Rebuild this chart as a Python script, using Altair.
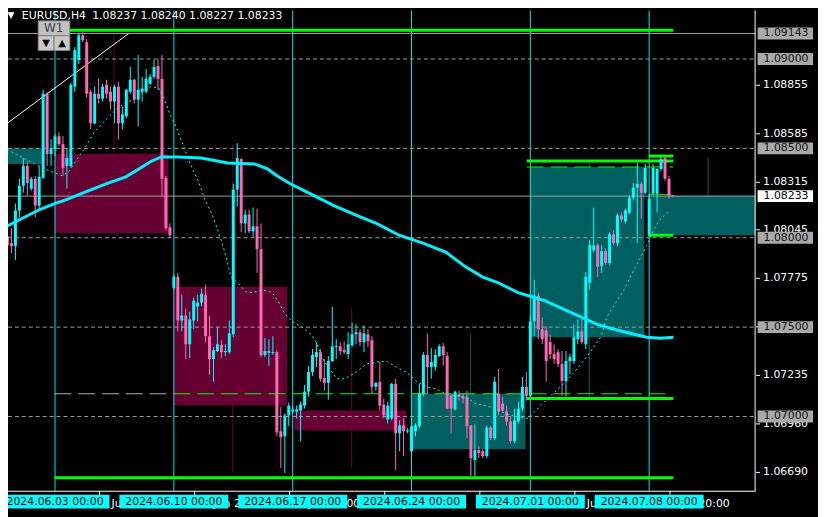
import altair as alt
import pandas as pd

# ---------------- data (EURUSD H4) ----------------
opens = [
1.08163, 1.08008, 1.07970, 1.07953, 1.08152, 1.08291, 1.08402, 1.08274, 1.08330, 1.08180,
1.08335, 1.08806, 1.08468, 1.08496, 1.08568, 1.08524, 1.08402, 1.08402, 1.08845, 1.08994,
1.09133, 1.09094, 1.08817, 1.08640, 1.08806, 1.08778, 1.08856, 1.08817, 1.08762, 1.08845,
1.08640, 1.08679, 1.08817, 1.08884, 1.08773, 1.08817, 1.08817, 1.08861, 1.08900, 1.08961,
1.08889, 1.08335, 1.08058, 1.07720, 1.07781, 1.07537, 1.07565, 1.07404, 1.07537, 1.07615,
1.07637, 1.07681, 1.07449, 1.07321, 1.07366, 1.07399, 1.07360, 1.07360, 1.07460, 1.08269,
1.08440, 1.08080, 1.08130, 1.08036, 1.08064, 1.07936, 1.07344, 1.07360, 1.07355, 1.07360,
1.06917, 1.06889, 1.07006, 1.07028, 1.07028, 1.07033, 1.07061, 1.07139, 1.07249, 1.07332,
1.07360, 1.07216, 1.07188, 1.07310, 1.07388, 1.07393, 1.07371, 1.07349, 1.07399, 1.07460,
1.07471, 1.07416, 1.07460, 1.07427, 1.07166, 1.07194, 1.07067, 1.06983, 1.06989, 1.07183,
1.06906, 1.06950, 1.06917, 1.06806, 1.06917, 1.06945, 1.07127, 1.07344, 1.07277, 1.07277,
1.07338, 1.07393, 1.07338, 1.07116, 1.07039, 1.07122, 1.07111, 1.07111, 1.06950, 1.06756,
1.06812, 1.06806, 1.06778, 1.06939, 1.06878, 1.07127, 1.07072, 1.07028, 1.06972, 1.06862,
1.06972, 1.07044, 1.07166, 1.07116, 1.07532, 1.07676, 1.07488, 1.07482, 1.07416, 1.07349,
1.07360, 1.07294, 1.07199, 1.07310, 1.07310, 1.07432, 1.07476, 1.07404, 1.07748, 1.07931,
1.07958, 1.07842, 1.07925, 1.07859, 1.08019, 1.07970, 1.08125, 1.08091, 1.08141, 1.08224,
1.08280, 1.08302, 1.08252, 1.08014, 1.08247, 1.08247, 1.08385, 1.08446, 1.08330, 1.08237,
]
highs = [
1.08191, 1.08025, 1.08053, 1.08191, 1.08330, 1.08446, 1.08429, 1.08341, 1.08346, 1.08402,
1.08828, 1.08817, 1.08551, 1.08579, 1.08590, 1.08568, 1.08501, 1.08867, 1.09066, 1.09144,
1.09150, 1.09111, 1.08828, 1.08845, 1.08889, 1.08861, 1.08884, 1.08845, 1.08856, 1.08873,
1.08734, 1.08834, 1.08956, 1.08889, 1.09022, 1.08900, 1.08945, 1.08917, 1.08994, 1.09000,
1.09022, 1.08346, 1.08080, 1.07792, 1.07803, 1.07681, 1.07604, 1.07587, 1.07665, 1.07681,
1.07715, 1.07737, 1.07565, 1.07388, 1.07499, 1.07427, 1.07404, 1.07537, 1.08302, 1.08529,
1.08446, 1.08158, 1.08158, 1.08169, 1.08163, 1.08080, 1.07438, 1.07432, 1.07449, 1.07371,
1.07055, 1.07017, 1.07078, 1.07061, 1.07061, 1.07083, 1.07177, 1.07283, 1.07377, 1.07416,
1.07377, 1.07321, 1.07338, 1.07615, 1.07432, 1.07416, 1.07421, 1.07471, 1.07526, 1.07515,
1.07488, 1.07510, 1.07488, 1.07449, 1.07194, 1.07305, 1.07100, 1.07083, 1.07188, 1.07211,
1.06978, 1.06989, 1.06934, 1.06989, 1.06961, 1.07183, 1.07360, 1.07465, 1.07382, 1.07377,
1.07404, 1.07410, 1.07360, 1.07127, 1.07144, 1.07144, 1.07127, 1.07144, 1.06950, 1.06956,
1.06834, 1.06817, 1.06950, 1.06950, 1.07222, 1.07266, 1.07111, 1.07061, 1.07000, 1.07044,
1.07083, 1.07222, 1.07249, 1.07565, 1.07765, 1.07693, 1.07554, 1.07504, 1.07460, 1.07404,
1.07377, 1.07366, 1.07366, 1.07349, 1.07515, 1.07543, 1.07554, 1.07809, 1.07986, 1.08169,
1.07970, 1.07958, 1.07942, 1.08030, 1.08042, 1.08136, 1.08141, 1.08163, 1.08235, 1.08307,
1.08418, 1.08313, 1.08413, 1.08247, 1.08413, 1.08391, 1.08452, 1.08463, 1.08346, 1.08240,
]
lows = [
1.07970, 1.07947, 1.07914, 1.07875, 1.08114, 1.08252, 1.08235, 1.08263, 1.08114, 1.08152,
1.08330, 1.08402, 1.08402, 1.08457, 1.08512, 1.08346, 1.08274, 1.08391, 1.08817, 1.08972,
1.09094, 1.08784, 1.08607, 1.08634, 1.08751, 1.08762, 1.08778, 1.08717, 1.08640, 1.08551,
1.08607, 1.08668, 1.08806, 1.08751, 1.08623, 1.08762, 1.08806, 1.08856, 1.08889, 1.08828,
1.08235, 1.08042, 1.07997, 1.07709, 1.07476, 1.07476, 1.07321, 1.07327, 1.07488, 1.07532,
1.07615, 1.07416, 1.07233, 1.07194, 1.07360, 1.07327, 1.07338, 1.07349, 1.07443, 1.08175,
1.08030, 1.08025, 1.08025, 1.08003, 1.07803, 1.07332, 1.07332, 1.07283, 1.07344, 1.06889,
1.06712, 1.06684, 1.06945, 1.07017, 1.06989, 1.06862, 1.07044, 1.07111, 1.07227, 1.07277,
1.07194, 1.07144, 1.07094, 1.07305, 1.07321, 1.07344, 1.07349, 1.07321, 1.07388, 1.07404,
1.07393, 1.07360, 1.07388, 1.07127, 1.07144, 1.07033, 1.06989, 1.06961, 1.06978, 1.06701,
1.06806, 1.06778, 1.06906, 1.06795, 1.06889, 1.06934, 1.07116, 1.07127, 1.07211, 1.07255,
1.07332, 1.07283, 1.07039, 1.06906, 1.07033, 1.07089, 1.07072, 1.06878, 1.06668, 1.06668,
1.06767, 1.06767, 1.06767, 1.06867, 1.06867, 1.07006, 1.07028, 1.06950, 1.06850, 1.06850,
1.06961, 1.07028, 1.07089, 1.07105, 1.07449, 1.07432, 1.07404, 1.07194, 1.07321, 1.07294,
1.07277, 1.07116, 1.07111, 1.07238, 1.07294, 1.07404, 1.07404, 1.07377, 1.07709, 1.07920,
1.07781, 1.07803, 1.07848, 1.07848, 1.07958, 1.07953, 1.08086, 1.08080, 1.08130, 1.08208,
1.07970, 1.08108, 1.08241, 1.08003, 1.08235, 1.08141, 1.08374, 1.08319, 1.08219, 1.08227,
]
closes = [
1.08003, 1.07958, 1.07953, 1.08152, 1.08291, 1.08402, 1.08307, 1.08330, 1.08180, 1.08341,
1.08806, 1.08468, 1.08496, 1.08568, 1.08524, 1.08391, 1.08446, 1.08856, 1.09050, 1.09133,
1.09105, 1.08806, 1.08640, 1.08806, 1.08778, 1.08845, 1.08806, 1.08762, 1.08845, 1.08640,
1.08690, 1.08828, 1.08884, 1.08773, 1.08828, 1.08834, 1.08889, 1.08900, 1.08956, 1.08889,
1.08330, 1.08053, 1.08014, 1.07781, 1.07537, 1.07565, 1.07404, 1.07543, 1.07648, 1.07637,
1.07687, 1.07449, 1.07321, 1.07371, 1.07404, 1.07360, 1.07366, 1.07465, 1.08269, 1.08446,
1.08080, 1.08130, 1.08036, 1.08064, 1.07936, 1.07344, 1.07366, 1.07362, 1.07360, 1.06911,
1.06884, 1.07006, 1.07061, 1.07039, 1.07039, 1.07067, 1.07139, 1.07249, 1.07344, 1.07360,
1.07211, 1.07188, 1.07310, 1.07393, 1.07393, 1.07366, 1.07360, 1.07404, 1.07460, 1.07471,
1.07416, 1.07465, 1.07421, 1.07166, 1.07188, 1.07061, 1.07006, 1.07061, 1.07183, 1.06906,
1.06950, 1.06917, 1.06922, 1.06945, 1.06950, 1.07127, 1.07344, 1.07277, 1.07305, 1.07344,
1.07393, 1.07344, 1.07044, 1.07044, 1.07139, 1.07111, 1.07100, 1.06945, 1.06767, 1.06812,
1.06795, 1.06778, 1.06939, 1.06878, 1.07194, 1.07028, 1.07033, 1.06972, 1.06862, 1.06978,
1.07044, 1.07166, 1.07116, 1.07532, 1.07676, 1.07488, 1.07432, 1.07310, 1.07349, 1.07321,
1.07294, 1.07199, 1.07310, 1.07332, 1.07443, 1.07476, 1.07416, 1.07781, 1.07958, 1.07958,
1.07837, 1.07925, 1.07859, 1.08019, 1.07970, 1.08125, 1.08102, 1.08152, 1.08224, 1.08280,
1.08302, 1.08252, 1.08391, 1.08219, 1.08391, 1.08385, 1.08440, 1.08330, 1.08235, 1.08233,
]

# slow moving average (bar index, value)
slow_ma_bar = [-0.88, -0.13, 4.13, 9.13, 12.88, 15.88, 20.88, 25.88, 30.88, 33.38, 37.38, 39.88,
               44.13, 49.88, 56.63, 63.38, 66.63, 69.13, 72.38, 77.38, 83.38, 89.13, 94.13,
               99.88, 105.88, 111.63, 116.63, 120.88, 124.88, 129.88, 133.38, 136.63, 141.63,
               149.88, 154.13, 159.13, 162.38, 165.88, 169.13]
slow_ma_val = [1.08042, 1.08053, 1.08102, 1.08158, 1.08191, 1.08213, 1.08258, 1.08302, 1.08341,
               1.08374, 1.08429, 1.08452, 1.08452, 1.08446, 1.08418, 1.08413, 1.08385, 1.08346,
               1.08302, 1.08247, 1.08180, 1.08125, 1.08080, 1.08014, 1.07970, 1.07920, 1.07837,
               1.07781, 1.07748, 1.07693, 1.07670, 1.07648, 1.07598, 1.07515, 1.07488, 1.07460,
               1.07443, 1.07438, 1.07443]
# fast moving average (dotted)
fast_ma_bar = [-0.13, 1.63, 4.13, 7.88, 10.38, 12.88, 14.88, 16.63, 18.38, 20.38, 22.88, 25.38,
               27.88, 30.38, 32.88, 35.38, 37.13, 39.13, 40.38, 42.13, 43.63, 45.63, 47.13,
               49.13, 50.88, 52.88, 54.63, 56.13, 57.38, 59.13, 61.13, 62.88, 65.38, 67.88,
               69.63, 71.13, 72.88, 75.38, 77.88, 79.13, 80.88, 82.38, 84.13, 86.13, 89.13,
               91.63, 94.13, 96.63, 99.13, 101.63, 104.13, 106.63, 109.13, 111.63, 114.13,
               116.63, 119.13, 121.63, 124.13, 126.63, 129.13, 132.38, 134.13, 137.38, 140.88,
               144.13, 147.38, 150.88, 152.38, 156.63, 159.13, 160.88, 162.38, 164.13, 165.88,
               168.38]
fast_ma_val = [1.08512, 1.08485, 1.08457, 1.08413, 1.08385, 1.08363, 1.08346, 1.08374, 1.08435,
               1.08496, 1.08590, 1.08651, 1.08706, 1.08751, 1.08773, 1.08828, 1.08845, 1.08839,
               1.08789, 1.08684, 1.08618, 1.08501, 1.08413, 1.08319, 1.08213, 1.08119, 1.08008,
               1.07898, 1.07781, 1.07748, 1.07698, 1.07693, 1.07709, 1.07693, 1.07632, 1.07571,
               1.07532, 1.07499, 1.07454, 1.07404, 1.07310, 1.07266, 1.07211, 1.07211, 1.07249,
               1.07294, 1.07305, 1.07310, 1.07277, 1.07249, 1.07199, 1.07166, 1.07155, 1.07127,
               1.07116, 1.07111, 1.07072, 1.07061, 1.07044, 1.07017, 1.07000, 1.06989, 1.07028,
               1.07100, 1.07172, 1.07249, 1.07338, 1.07449, 1.07560, 1.07709, 1.07820, 1.07892,
               1.07958, 1.08042, 1.08108, 1.08152]

# weekly zones
zone_start = [-3.0, 12.875, 42.875, 73.375, 102.875, 132.875, 162.875]
zone_end = [9.625, 41.625, 71.625, 101.625, 131.75, 161.75, 189.875]
zone_top = [1.08501, 1.08468, 1.07726, 1.07033, 1.07127, 1.08396, 1.08235]
zone_bottom = [1.08413, 1.08025, 1.07061, 1.06922, 1.06817, 1.07443, 1.08014]
zone_kind = ["bull", "bear", "bear", "bear", "bull", "bull", "bull"]

mid_bar = [27.875, 57.875, 87.875, 117.875, 147.875, 177.875]
mid_top = [1.09150, 1.08524, 1.07609, 1.07460, 1.08418, 1.08452]
mid_bottom = [1.08014, 1.06684, 1.06712, 1.06668, 1.07105, 1.08235]
mid_kind = ["bear", "bear", "bear", "bull", "bull", "bull"]

week_start_bar = [13, 43, 73, 103, 133, 163]
week_label = ["2024.06.03 00:00", "2024.06.10 00:00", "2024.06.17 00:00",
              "2024.06.24 00:00", "2024.07.01 00:00", "2024.07.08 00:00"]

round_levels = [1.09000, 1.08500, 1.08000, 1.07500, 1.07000]
solid_levels = [1.09143, 1.08233]

green_thick_from = [16.6, 12.875, 132.1, 162.9, 162.9, 132.1]
green_thick_to = [169.1, 169.1, 169.1, 169.1, 169.1, 169.1]
green_thick_price = [1.09161, 1.06657, 1.08429, 1.08457, 1.08014, 1.07100]
green_thin_from = [162.9]
green_thin_to = [168.6]
green_thin_price = [1.08241]
green_dash_from = [132.1, 42.875]
green_dash_to = [169.1, 167.1]
green_dash_price = [1.08396, 1.07127]
gray_dash_from = [12.875]
gray_dash_to = [42.875]
gray_dash_price = [1.07127]

trend_bar = [-0.13, 31.6]
trend_val = [1.08623, 1.09143]

box_prices = [1.09143, 1.09000, 1.08500, 1.08000, 1.07500, 1.07000]
current_price = 1.08233

y_tick_values = [1.06690, 1.06960, 1.07235, 1.07505, 1.07775, 1.08045, 1.08315, 1.08585, 1.08855]
x_tick_bars = [0, 24, 48, 72, 96, 120, 144, 168]
x_tick_labels = ["29 May 2024", "4 Jun 20:00", "10 Jun 20:00", "14 Jun 20:00",
                 "20 Jun 20:00", "26 Jun 20:00", "2 Jul 20:00", "8 Jul 20:00"]

title_symbol = "EURUSD,H4"
title_prices = "1.08237 1.08240 1.08227 1.08233"

# ---------------- layout ----------------
W, H = 818, 509
FRAME_X, FRAME_Y = 755, 485
FONT = "DejaVu Sans"
UP, DOWN = "#00ffff", "#ff69b4"
BULL_ZONE, BEAR_ZONE = "#005f5f", "#660033"

xs = alt.Scale(domain=[1.125, 205.625], nice=False, zero=False, padding=0)
ys = alt.Scale(domain=[1.064515, 1.092715], nice=False, zero=False, padding=0)

label_js = "[" + ",".join("'%s'" % s for s in x_tick_labels) + "][round(datum.value / 24)]"
xaxis = alt.Axis(orient="bottom", offset=FRAME_Y - H, values=x_tick_bars, labelExpr=label_js,
                 domain=False, grid=False, tickColor="white", tickSize=4, labelColor="white",
                 labelFont=FONT, labelFontSize=11, labelAlign="left", labelBaseline="top",
                 labelPadding=3, labelOffset=2, labelOverlap=False, labelBound=False,
                 labelFlush=False, title=None)
yaxis = alt.Axis(orient="right", offset=FRAME_X - W, values=y_tick_values, format=".5f",
                 domain=False, grid=False, tickColor="white", tickSize=4, labelColor="white",
                 labelFont=FONT, labelFontSize=11, labelPadding=3, labelAlign="left",
                 labelBaseline="middle", labelOverlap=False, labelBound=False,
                 labelFlush=False, title=None)


def X(f):
    return alt.X(f, type="quantitative", scale=xs, axis=xaxis)


def Y(f):
    return alt.Y(f, type="quantitative", scale=ys, axis=yaxis)


candles = pd.DataFrame({"i": list(range(len(opens))), "o": opens, "h": highs, "l": lows, "c": closes})
candles["up"] = [c >= o for o, c in zip(opens, closes)]
candles["lo"] = candles[["o", "c"]].min(axis=1)
candles["hi"] = candles[["o", "c"]].max(axis=1)
thin = (candles["hi"] - candles["lo"]) < 0.00004
candles.loc[thin, "lo"] = candles.loc[thin, "lo"] - 0.00003
candles.loc[thin, "hi"] = candles.loc[thin, "hi"] + 0.00003
up_c = candles[candles["up"]]
dn_c = candles[~candles["up"]]

zones = pd.DataFrame({"x1": zone_start, "x2": zone_end, "t": zone_top, "b": zone_bottom, "kind": zone_kind})
mids = pd.DataFrame({"x": mid_bar, "t": mid_top, "b": mid_bottom, "kind": mid_kind})
seps = pd.DataFrame({"x": week_start_bar})
rl = pd.DataFrame({"p": round_levels})
sl = pd.DataFrame({"p": solid_levels})
gthick = pd.DataFrame({"x1": green_thick_from, "x2": green_thick_to, "p": green_thick_price})
gthin = pd.DataFrame({"x1": green_thin_from, "x2": green_thin_to, "p": green_thin_price})
gdash = pd.DataFrame({"x1": green_dash_from, "x2": green_dash_to, "p": green_dash_price})
gray_dash = pd.DataFrame({"x1": gray_dash_from, "x2": gray_dash_to, "p": gray_dash_price})
trend = pd.DataFrame({"x": trend_bar, "p": trend_val})
slow = pd.DataFrame({"x": slow_ma_bar, "p": slow_ma_val})
fast = pd.DataFrame({"x": fast_ma_bar, "p": fast_ma_val})

half = 6.0 / 18050
lvl_boxes = pd.DataFrame({"p": box_prices})
lvl_boxes["txt"] = lvl_boxes["p"].map(lambda v: "%.5f" % v)
lvl_boxes["t"] = lvl_boxes["p"] + half
lvl_boxes["b"] = lvl_boxes["p"] - half
bid_box = pd.DataFrame({"p": [current_price]})
bid_box["txt"] = bid_box["p"].map(lambda v: "%.5f" % v)
bid_box["t"] = bid_box["p"] + half
bid_box["b"] = bid_box["p"] - half
weeks = pd.DataFrame({"x": week_start_bar, "label": week_label})
weeks["x1"] = weeks["x"] - 13.75
weeks["x2"] = weeks["x"] + 13.75
one = pd.DataFrame({"k": [0]})

layers = []
for kind, col in (("bull", BULL_ZONE), ("bear", BEAR_ZONE)):
    layers.append(alt.Chart(zones[zones["kind"] == kind]).mark_rect(color=col).encode(
        x=X("x1"), x2="x2", y=Y("t"), y2="b"))
for kind, col in (("bull", BULL_ZONE), ("bear", BEAR_ZONE)):
    layers.append(alt.Chart(mids[mids["kind"] == kind]).mark_rule(strokeWidth=1, color=col).encode(
        x=X("x"), y=Y("t"), y2="b"))
layers.append(alt.Chart(seps).mark_rule(strokeWidth=1, color="#00e8e8").encode(
    x=X("x"), y=alt.value(0), y2=alt.value(FRAME_Y)))
layers.append(alt.Chart(rl).mark_rule(strokeWidth=1, color="#a0a0a0", strokeDash=[4, 3]).encode(
    y=Y("p"), x=alt.value(0), x2=alt.value(FRAME_X)))
layers.append(alt.Chart(sl).mark_rule(strokeWidth=1, color="#a0a0a0").encode(
    y=Y("p"), x=alt.value(0), x2=alt.value(FRAME_X)))
layers.append(alt.Chart(gray_dash).mark_rule(strokeWidth=1, color="#b0b0b0", strokeDash=[17, 7]).encode(
    x=X("x1"), x2="x2", y=Y("p")))
layers.append(alt.Chart(gdash).mark_rule(strokeWidth=1, color="#00ff00", strokeDash=[17, 7]).encode(
    x=X("x1"), x2="x2", y=Y("p")))
layers.append(alt.Chart(gthin).mark_rule(strokeWidth=1, color="#00ff00").encode(
    x=X("x1"), x2="x2", y=Y("p")))
layers.append(alt.Chart(gthick).mark_rule(strokeWidth=3, color="#00ff00").encode(
    x=X("x1"), x2="x2", y=Y("p")))
layers.append(alt.Chart(trend).mark_line(strokeWidth=1, color="white").encode(x=X("x"), y=Y("p")))
for df, col in ((up_c, UP), (dn_c, DOWN)):
    layers.append(alt.Chart(df).mark_rule(strokeWidth=1, color=col).encode(x=X("i"), y=Y("l"), y2="h"))
    layers.append(alt.Chart(df).mark_bar(size=3, color=col).encode(x=X("i"), y=Y("lo"), y2="hi"))
layers.append(alt.Chart(fast).mark_line(strokeWidth=1, color="#00ffff", strokeDash=[2, 3]).encode(
    x=X("x"), y=Y("p")))
layers.append(alt.Chart(slow).mark_line(strokeWidth=3, color="#00f0ff").encode(x=X("x"), y=Y("p")))
# frame
layers.append(alt.Chart(one).mark_rule(strokeWidth=1, color="white").encode(
    x=alt.value(FRAME_X - 0.5), y=alt.value(0), y2=alt.value(FRAME_Y + 0.5)))
layers.append(alt.Chart(one).mark_rule(strokeWidth=1, color="white").encode(
    x=alt.value(0), x2=alt.value(FRAME_X), y=alt.value(FRAME_Y + 0.5)))
# price boxes
layers.append(alt.Chart(lvl_boxes).mark_rect(color="#a9a9a9").encode(
    x=alt.value(757), x2=alt.value(813), y=Y("t"), y2="b"))
layers.append(alt.Chart(bid_box).mark_rect(color="#ffffff").encode(
    x=alt.value(757), x2=alt.value(813), y=Y("t"), y2="b"))
layers.append(alt.Chart(lvl_boxes).mark_text(align="left", baseline="middle", font=FONT, fontSize=11,
                                             color="#101010").encode(x=alt.value(763), y=Y("p"), text="txt"))
layers.append(alt.Chart(bid_box).mark_text(align="left", baseline="middle", font=FONT, fontSize=11,
                                           color="#000000").encode(x=alt.value(763), y=Y("p"), text="txt"))
# week date labels
layers.append(alt.Chart(weeks).mark_rect(color="#00ffff").encode(
    x=X("x1"), x2="x2", y=alt.value(489), y2=alt.value(503)))
layers.append(alt.Chart(weeks).mark_text(align="center", baseline="middle", font=FONT, fontSize=11,
                                         color="black").encode(x=X("x"), y=alt.value(496.5), text="label"))
# title
layers.append(alt.Chart(one).mark_text(text="\u25BC", font=FONT, fontSize=9, color="white",
                                       align="center", baseline="middle").encode(
    x=alt.value(3), y=alt.value(4.5)))
layers.append(alt.Chart(one).mark_text(text=title_symbol, font=FONT, fontSize=11, color="white",
                                       align="left", baseline="alphabetic").encode(
    x=alt.value(14), y=alt.value(9)))
layers.append(alt.Chart(one).mark_text(text=title_prices, font=FONT, fontSize=11, color="white",
                                       align="left", baseline="alphabetic").encode(
    x=alt.value(85), y=alt.value(9)))
# W1 button
layers.append(alt.Chart(one).mark_rect(color="#c0c0c0", stroke="#808080", strokeWidth=1).encode(
    x=alt.value(30.5), x2=alt.value(62.5), y=alt.value(10.5), y2=alt.value(25.5)))
layers.append(alt.Chart(one).mark_rect(color="#c8c8c8", stroke="#808080", strokeWidth=1).encode(
    x=alt.value(30.5), x2=alt.value(46.5), y=alt.value(25.5), y2=alt.value(40.5)))
layers.append(alt.Chart(one).mark_rect(color="#c8c8c8", stroke="#808080", strokeWidth=1).encode(
    x=alt.value(46.5), x2=alt.value(62.5), y=alt.value(25.5), y2=alt.value(40.5)))
layers.append(alt.Chart(one).mark_text(text="W1", font=FONT, fontSize=12, color="#404040",
                                       align="center", baseline="middle").encode(
    x=alt.value(46), y=alt.value(18)))
layers.append(alt.Chart(one).mark_text(text="\u25BC", font=FONT, fontSize=10, color="black",
                                       align="center", baseline="middle").encode(
    x=alt.value(38.5), y=alt.value(33)))
layers.append(alt.Chart(one).mark_text(text="\u25B2", font=FONT, fontSize=10, color="black",
                                       align="center", baseline="middle").encode(
    x=alt.value(54.5), y=alt.value(33)))

chart = alt.layer(*layers).properties(
    width=W, height=H, background="black", padding=0,
    autosize=alt.AutoSizeParams(type="none"),
).configure_view(stroke=None)

chart.save("out.html", embed_options={"renderer": "svg", "actions": False})
